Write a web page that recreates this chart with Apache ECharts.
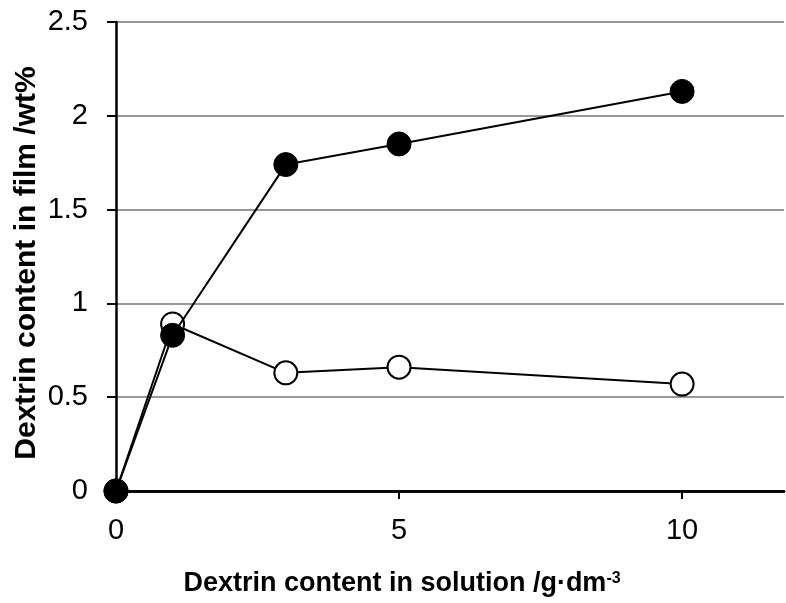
<!DOCTYPE html>
<html>
<head>
<meta charset="utf-8">
<script src="https://cdn.jsdelivr.net/npm/echarts@6/dist/echarts.min.js"></script>
<style>
  html, body { margin: 0; padding: 0; background: #fff; }
  #chart { width: 786px; height: 603px; }
</style>
</head>
<body>
<div id="chart"></div>
<script>
// Dextrin concentration in the plating solution (g/dm3)
const solutionContent = [0, 1, 3, 5, 10];
// Dextrin content in the deposited film (wt%), two conditions
const filmOpen = [0, 0.89, 0.63, 0.66, 0.57];
const filmFilled = [0, 0.83, 1.74, 1.85, 2.13];
const xTicks = [0, 5, 10];

const FONT = "'Liberation Sans', Arial, Helvetica, sans-serif";
const X_MAX = 11.8;

const chart = echarts.init(document.getElementById('chart'), null, { renderer: 'canvas' });

const pairs = (xs, ys) => xs.map((x, i) => [x, ys[i]]);

chart.setOption({
  animation: false,
  backgroundColor: '#ffffff',
  grid: { left: 116, top: 22, right: 2, bottom: 112, containLabel: false },
  xAxis: [
    {
      type: 'value',
      min: 0, max: X_MAX,
      axisLine: { show: true, onZero: false, lineStyle: { color: '#000', width: 2.5 } },
      axisTick: { show: true, inside: false, length: 8, customValues: xTicks, lineStyle: { color: '#000', width: 2 } },
      axisLabel: { show: true, margin: 25, customValues: xTicks, fontFamily: FONT, fontSize: 29, color: '#000' },
      splitLine: { show: false }
    },
    {
      type: 'value',
      position: 'top',
      min: 0, max: X_MAX,
      axisLine: { show: true, lineStyle: { color: '#000', width: 2.5 } },
      axisTick: { show: false },
      axisLabel: { show: false },
      splitLine: { show: false }
    }
  ],
  yAxis: {
    type: 'value',
    min: 0, max: 2.5, interval: 0.5,
    axisLine: { show: true, onZero: false, lineStyle: { color: '#000', width: 2.5 } },
    axisTick: { show: true, inside: false, length: 9, lineStyle: { color: '#000', width: 2 } },
    axisLabel: { margin: 28, fontFamily: FONT, fontSize: 29, color: '#000' },
    splitLine: { show: true, lineStyle: { color: '#999999', width: 2 } }
  },
  series: [
    {
      type: 'line',
      data: pairs(solutionContent, filmOpen),
      symbol: 'circle',
      symbolSize: 23,
      lineStyle: { color: '#000', width: 2 },
      itemStyle: { color: '#ffffff', borderColor: '#000', borderWidth: 2 },
      z: 3
    },
    {
      type: 'line',
      data: pairs(solutionContent, filmFilled),
      symbol: 'circle',
      symbolSize: 24,
      lineStyle: { color: '#000', width: 2 },
      itemStyle: { color: '#000', borderColor: '#000', borderWidth: 1 },
      z: 4
    }
  ],
  graphic: [
    {
      type: 'text',
      x: 402,
      y: 584,
      style: {
        text: '{t|Dextrin content in solution /g·dm}{s|-3}',
        x: 0, y: 0,
        align: 'center',
        verticalAlign: 'middle',
        rich: {
          t: { fontFamily: FONT, fontSize: 27, fontWeight: 'bold', fill: '#000' },
          s: { fontFamily: FONT, fontSize: 16, fontWeight: 'bold', fill: '#000', verticalAlign: 'top', padding: [0, 0, 10, 0] }
        }
      }
    },
    {
      type: 'text',
      x: 27,
      y: 263,
      rotation: Math.PI / 2,
      style: {
        text: 'Dextrin content in film /wt%',
        align: 'center',
        verticalAlign: 'middle',
        fontFamily: FONT,
        fontSize: 30,
        fontWeight: 'bold',
        fill: '#000'
      }
    }
  ]
});
</script>
</body>
</html>
